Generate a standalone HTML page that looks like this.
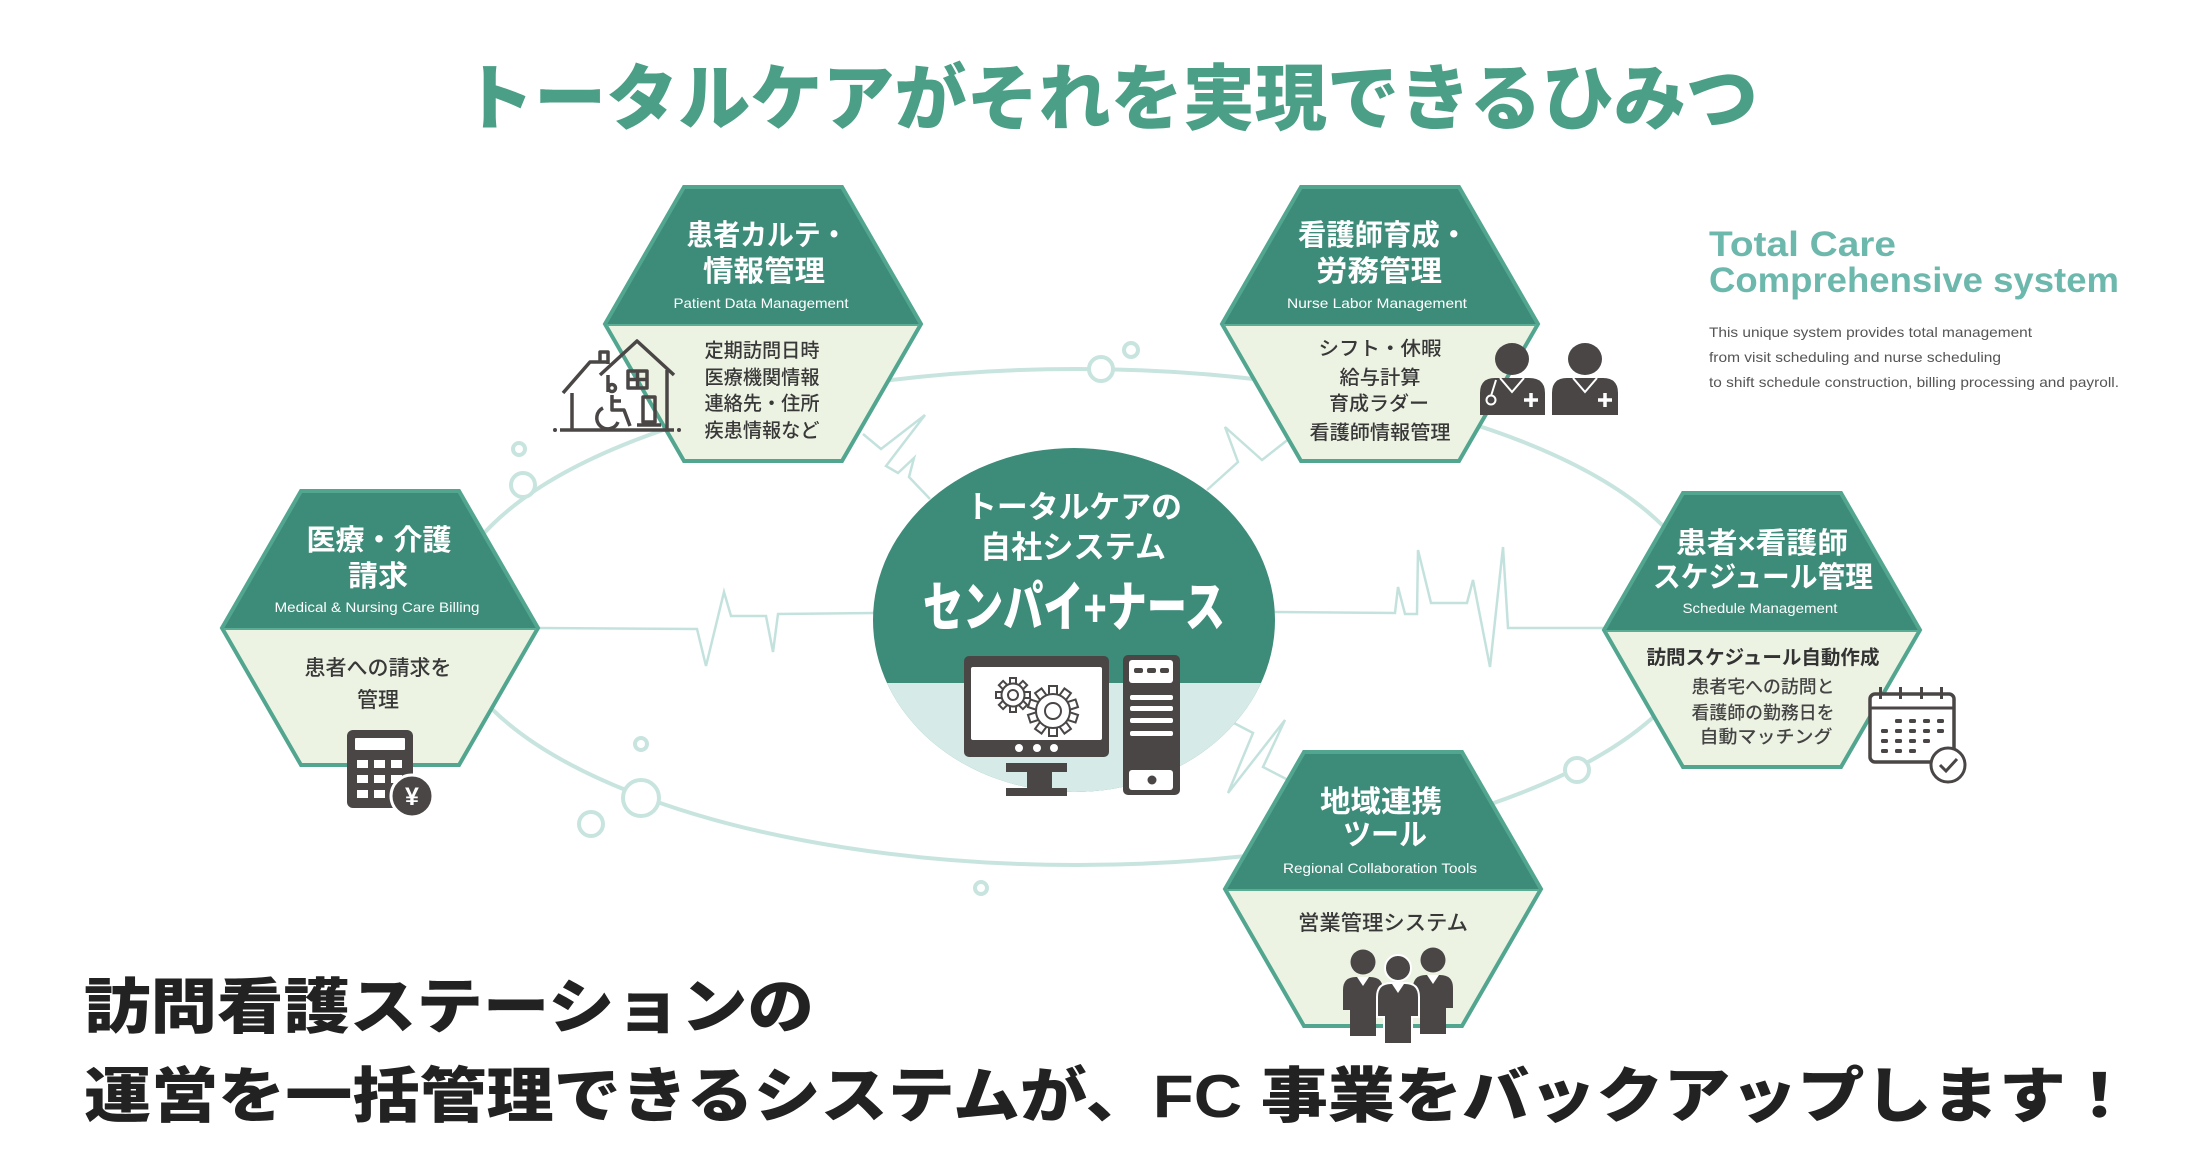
<!DOCTYPE html>
<html><head><meta charset="utf-8"><style>
html,body{margin:0;padding:0;background:#fff;}
svg{display:block;}
text{font-family:"Liberation Sans","Noto Sans CJK JP",sans-serif;}
</style></head><body>
<svg width="2188" height="1158" viewBox="0 0 2188 1158" xmlns="http://www.w3.org/2000/svg">
<rect width="2188" height="1158" fill="#fff"/>

<!-- Title -->
<text x="462" y="124" font-size="72" font-weight="900" fill="#4a9f86" textLength="1296" lengthAdjust="spacingAndGlyphs">トータルケアがそれを実現できるひみつ</text>

<!-- Orbit -->
<ellipse cx="1077" cy="617" rx="630" ry="248" fill="none" stroke="#c8e4df" stroke-width="4"/>

<!-- ECG lines -->
<g fill="none" stroke="#c4e2dd" stroke-width="2.5" stroke-linejoin="miter">
<path d="M538 628 L697 629 L706 666 L724 592 L731 616 L766 616 L773 652 L778 614 L875 613"/>
<path d="M1275 612 L1395 613 L1398 587 L1405 614 L1417 614 L1418 550 L1431 603 L1467 603 L1473 580 L1490 667 L1503 547 L1508 628 L1605 628"/>
<path d="M863 434 L881 449 L925 415 L886 466 L898 473 L914 458 L909 477 L930 499"/>
<path d="M1207 490 L1238 462 L1225 427 L1262 460 L1290 438"/>
<path d="M1232 722 L1253 733 L1228 793 L1285 720 L1263 767 L1292 782"/>
</g>

<!-- orbit circles -->
<g fill="#fff" stroke="#c8e4df" stroke-width="4">
<circle cx="523" cy="485" r="12"/>
<circle cx="1101" cy="369" r="12"/>
<circle cx="1577" cy="770" r="12"/>
<circle cx="641" cy="798" r="18"/>
<circle cx="519" cy="449" r="6"/>
<circle cx="1131" cy="350" r="7"/>
<circle cx="591" cy="824" r="12"/>
<circle cx="641" cy="744" r="6"/>
<circle cx="981" cy="888" r="6"/>
</g>

<!-- Center ellipse -->
<defs>
<clipPath id="band"><rect x="860" y="683" width="440" height="130"/></clipPath>
</defs>
<ellipse cx="1074" cy="620" rx="201" ry="172" fill="#3d8b79"/>
<ellipse cx="1074" cy="620" rx="201" ry="172" fill="#d6ebe8" clip-path="url(#band)"/>
<text x="1074" y="518" font-size="31" font-weight="700" fill="#fff" text-anchor="middle" textLength="216" lengthAdjust="spacingAndGlyphs">トータルケアの</text>
<text x="1073" y="558" font-size="31" font-weight="700" fill="#fff" text-anchor="middle" textLength="186" lengthAdjust="spacingAndGlyphs">自社システム</text>
<text x="1074" y="626" font-size="54" font-weight="900" fill="#fff" text-anchor="middle" textLength="302" lengthAdjust="spacingAndGlyphs">センパイ+ナース</text>

<!-- Monitor -->
<g fill="#4a4646">
<rect x="964" y="656" width="145" height="101" rx="5"/>
<path d="M1006 763 H1067 V772 H1052 V788 H1067 V796 H1006 V788 H1027 V772 H1006 Z"/>
<rect x="1123" y="655" width="57" height="140" rx="5"/>
</g>
<rect x="971" y="667" width="131" height="73" rx="2" fill="#fff"/>
<g fill="#fff">
<circle cx="1019" cy="748" r="4"/><circle cx="1037" cy="748" r="4"/><circle cx="1054" cy="748" r="4"/>
<rect x="1129" y="660" width="44" height="23" rx="3"/>
<rect x="1130" y="695" width="43" height="5" rx="2"/>
<rect x="1130" y="706" width="43" height="5" rx="2"/>
<rect x="1130" y="718" width="43" height="5" rx="2"/>
<rect x="1130" y="731" width="43" height="5" rx="2"/>
<rect x="1129" y="770" width="44" height="20" rx="3"/>
</g>
<g fill="#4a4646">
<rect x="1134" y="668" width="9" height="5" rx="2"/>
<rect x="1147" y="668" width="9" height="5" rx="2"/>
<rect x="1160" y="668" width="9" height="5" rx="2"/>
<circle cx="1152" cy="780" r="4.5"/>
</g>
<!-- gears -->
<g fill="#fff" stroke="#4a4646" stroke-width="2">
<g transform="translate(1013,695)">
<rect x="-3" y="-17" width="6" height="8" transform="rotate(0)"/>
<rect x="-3" y="-17" width="6" height="8" transform="rotate(45)"/>
<rect x="-3" y="-17" width="6" height="8" transform="rotate(90)"/>
<rect x="-3" y="-17" width="6" height="8" transform="rotate(135)"/>
<rect x="-3" y="-17" width="6" height="8" transform="rotate(180)"/>
<rect x="-3" y="-17" width="6" height="8" transform="rotate(225)"/>
<rect x="-3" y="-17" width="6" height="8" transform="rotate(270)"/>
<rect x="-3" y="-17" width="6" height="8" transform="rotate(315)"/>
<circle r="11.5"/>
<circle r="5"/>
</g>
<g transform="translate(1053,711)">
<rect x="-4" y="-25" width="8" height="10" transform="rotate(0)"/>
<rect x="-4" y="-25" width="8" height="10" transform="rotate(36)"/>
<rect x="-4" y="-25" width="8" height="10" transform="rotate(72)"/>
<rect x="-4" y="-25" width="8" height="10" transform="rotate(108)"/>
<rect x="-4" y="-25" width="8" height="10" transform="rotate(144)"/>
<rect x="-4" y="-25" width="8" height="10" transform="rotate(180)"/>
<rect x="-4" y="-25" width="8" height="10" transform="rotate(216)"/>
<rect x="-4" y="-25" width="8" height="10" transform="rotate(252)"/>
<rect x="-4" y="-25" width="8" height="10" transform="rotate(288)"/>
<rect x="-4" y="-25" width="8" height="10" transform="rotate(324)"/>
<circle r="17"/>
<circle r="8"/>
</g>
</g>

<!-- Hexagons -->
<g stroke="none">
<polygon points="605,324 684,187 842,187 921,324" fill="#3d8b79"/>
<polygon points="605,324 921,324 842,461 684,461" fill="#edf3e3"/>
<polygon points="1222,324 1301,187 1459,187 1538,324" fill="#3d8b79"/>
<polygon points="1222,324 1538,324 1459,461 1301,461" fill="#edf3e3"/>
<polygon points="222,628 301,491 459,491 538,628" fill="#3d8b79"/>
<polygon points="222,628 538,628 459,765 301,765" fill="#edf3e3"/>
<polygon points="1604,630 1683,493 1841,493 1920,630" fill="#3d8b79"/>
<polygon points="1604,630 1920,630 1841,767 1683,767" fill="#edf3e3"/>
<polygon points="1225,889 1304,752 1462,752 1541,889" fill="#3d8b79"/>
<polygon points="1225,889 1541,889 1462,1026 1304,1026" fill="#edf3e3"/>
</g>
<g fill="none" stroke="#52a68f" stroke-width="4" stroke-linejoin="miter">
<polygon points="605,324 684,187 842,187 921,324 842,461 684,461"/>
<polygon points="1222,324 1301,187 1459,187 1538,324 1459,461 1301,461"/>
<polygon points="222,628 301,491 459,491 538,628 459,765 301,765"/>
<polygon points="1604,630 1683,493 1841,493 1920,630 1841,767 1683,767"/>
<polygon points="1225,889 1304,752 1462,752 1541,889 1462,1026 1304,1026"/>
</g>
<g stroke="#5aae96" stroke-width="2">
<line x1="607" y1="325" x2="919" y2="325"/>
<line x1="1224" y1="325" x2="1536" y2="325"/>
<line x1="224" y1="629" x2="536" y2="629"/>
<line x1="1606" y1="631" x2="1918" y2="631"/>
<line x1="1227" y1="890" x2="1539" y2="890"/>
</g>

<!-- Hex titles -->
<g fill="#fff" font-weight="700" text-anchor="middle" font-size="29">
<text x="767" y="245" textLength="161" lengthAdjust="spacingAndGlyphs">患者カルテ・</text>
<text x="764" y="281" textLength="122" lengthAdjust="spacingAndGlyphs">情報管理</text>
<text x="1383" y="245" textLength="170" lengthAdjust="spacingAndGlyphs">看護師育成・</text>
<text x="1379" y="281" textLength="126" lengthAdjust="spacingAndGlyphs">労務管理</text>
<text x="379" y="550" textLength="145" lengthAdjust="spacingAndGlyphs">医療・介護</text>
<text x="378" y="586" textLength="60" lengthAdjust="spacingAndGlyphs">請求</text>
<text x="1762" y="553" textLength="172" lengthAdjust="spacingAndGlyphs">患者×看護師</text>
<text x="1763" y="587" textLength="220" lengthAdjust="spacingAndGlyphs">スケジュール管理</text>
<text x="1381" y="812" font-size="30" textLength="122" lengthAdjust="spacingAndGlyphs">地域連携</text>
<text x="1385" y="845" font-size="30" textLength="84" lengthAdjust="spacingAndGlyphs">ツール</text>
</g>
<g fill="#fff" text-anchor="middle" font-size="14">
<text x="761" y="308" textLength="175" lengthAdjust="spacingAndGlyphs">Patient Data Management</text>
<text x="1377" y="308" textLength="180" lengthAdjust="spacingAndGlyphs">Nurse Labor Management</text>
<text x="377" y="612" textLength="205" lengthAdjust="spacingAndGlyphs">Medical &amp; Nursing Care Billing</text>
<text x="1760" y="613" textLength="155" lengthAdjust="spacingAndGlyphs">Schedule Management</text>
<text x="1380" y="873" textLength="194" lengthAdjust="spacingAndGlyphs">Regional Collaboration Tools</text>
</g>

<!-- body texts -->
<g fill="#383838" text-anchor="middle" font-size="19.5" font-weight="500">
<text x="762" y="357" textLength="115" lengthAdjust="spacingAndGlyphs">定期訪問日時</text>
<text x="762" y="384" textLength="115" lengthAdjust="spacingAndGlyphs">医療機関情報</text>
<text x="762" y="410" textLength="115" lengthAdjust="spacingAndGlyphs">連絡先・住所</text>
<text x="762" y="437" textLength="115" lengthAdjust="spacingAndGlyphs">疾患情報など</text>
<text x="1380" y="355" textLength="123" lengthAdjust="spacingAndGlyphs">シフト・休暇</text>
<text x="1380" y="384" textLength="81" lengthAdjust="spacingAndGlyphs">給与計算</text>
<text x="1379" y="410" textLength="100" lengthAdjust="spacingAndGlyphs">育成ラダー</text>
<text x="1380" y="439" textLength="141" lengthAdjust="spacingAndGlyphs">看護師情報管理</text>
<text x="378" y="675" font-size="21" textLength="147" lengthAdjust="spacingAndGlyphs">患者への請求を</text>
<text x="378" y="707" font-size="21">管理</text>
<text x="1763" y="664" font-weight="700" fill="#333" textLength="233" lengthAdjust="spacingAndGlyphs">訪問スケジュール自動作成</text>
<text x="1763" y="693" font-size="18" fill="#444" textLength="143" lengthAdjust="spacingAndGlyphs">患者宅への訪問と</text>
<text x="1763" y="719" font-size="18" fill="#444" textLength="143" lengthAdjust="spacingAndGlyphs">看護師の勤務日を</text>
<text x="1766" y="743" font-size="18" fill="#444" textLength="133" lengthAdjust="spacingAndGlyphs">自動マッチング</text>
<text x="1383" y="930" font-size="21" textLength="170" lengthAdjust="spacingAndGlyphs">営業管理システム</text>
</g>

<!-- House icon -->
<g fill="none" stroke="#4a4646" stroke-width="3.5" stroke-linejoin="round">
<line x1="560" y1="430" x2="674" y2="430"/>
<path d="M563 393 L590 362 L608 362"/>
<path d="M600 362 V352 H608 V364"/>
<line x1="572" y1="393" x2="572" y2="430"/>
<path d="M600 375 L637 341 L674 375"/>
<path d="M608 375 V392"/>
<path d="M667 370 V430"/>
<rect x="628" y="371" width="19" height="17"/>
<path d="M637.5 371 V388 M628 379.5 H647"/>
<rect x="643" y="397" width="12" height="25"/>
<line x1="637" y1="425" x2="661" y2="425"/>
<circle cx="612" cy="388" r="3.5"/>
<path d="M612 395 V410 H624 L630 426"/>
<path d="M612 401 H621"/>
<path d="M603 408 A11 11 0 1 0 618 422"/>
</g>
<g fill="#4a4646"><circle cx="555" cy="430" r="2"/><circle cx="679" cy="430" r="2"/></g>

<!-- Nurse icons -->
<g fill="#4a4646">
<ellipse cx="1512" cy="359" rx="17" ry="16"/>
<path d="M1480 415 V393 Q1480 378 1495 378 H1529 Q1545 378 1545 393 V415 Z"/>
<ellipse cx="1585" cy="359" rx="17" ry="16"/>
<path d="M1552 415 V393 Q1552 378 1567 378 H1603 Q1618 378 1618 393 V415 Z"/>
</g>
<g fill="none" stroke="#fff" stroke-width="2">
<path d="M1500 378 L1512 392 L1524 378"/>
<path d="M1573 378 L1585 392 L1597 378"/>
<path d="M1496 380 L1491 396"/>
<circle cx="1491" cy="400" r="4.5"/>
</g>
<g stroke="#fff" stroke-width="3.5">
<path d="M1531 393 V407 M1524 400 H1538"/>
<path d="M1605 393 V407 M1598 400 H1612"/>
</g>

<!-- Calculator -->
<rect x="347" y="730" width="66" height="78" rx="6" fill="#4a4646"/>
<g fill="#fff">
<rect x="355" y="738" width="50" height="12" rx="1"/>
<rect x="357" y="760" width="11" height="8"/><rect x="374" y="760" width="11" height="8"/><rect x="391" y="760" width="11" height="8"/>
<rect x="357" y="775" width="11" height="8"/><rect x="374" y="775" width="11" height="8"/><rect x="391" y="775" width="11" height="8"/>
<rect x="357" y="790" width="11" height="8"/><rect x="374" y="790" width="11" height="8"/>
</g>
<circle cx="412" cy="796" r="21" fill="#4a4646" stroke="#fff" stroke-width="3"/>
<text x="412" y="805" font-size="25" font-weight="700" fill="#fff" text-anchor="middle">¥</text>

<!-- Calendar -->
<rect x="1870" y="694" width="84" height="68" rx="5" fill="#fff" stroke="#4a4646" stroke-width="3.5"/>
<line x1="1870" y1="708" x2="1954" y2="708" stroke="#4a4646" stroke-width="3"/>
<g fill="#4a4646">
<rect x="1879" y="687" width="3" height="12"/><rect x="1899" y="687" width="3" height="12"/>
<rect x="1920" y="687" width="3" height="12"/><rect x="1940" y="687" width="3" height="12"/>
<rect x="1895" y="719" width="7" height="4" rx="1.5"/><rect x="1909" y="719" width="7" height="4" rx="1.5"/><rect x="1923" y="719" width="7" height="4" rx="1.5"/><rect x="1937" y="719" width="7" height="4" rx="1.5"/>
<rect x="1881" y="729" width="7" height="4" rx="1.5"/><rect x="1895" y="729" width="7" height="4" rx="1.5"/><rect x="1909" y="729" width="7" height="4" rx="1.5"/><rect x="1923" y="729" width="7" height="4" rx="1.5"/><rect x="1937" y="729" width="7" height="4" rx="1.5"/>
<rect x="1881" y="739" width="7" height="4" rx="1.5"/><rect x="1895" y="739" width="7" height="4" rx="1.5"/><rect x="1909" y="739" width="7" height="4" rx="1.5"/><rect x="1923" y="739" width="7" height="4" rx="1.5"/>
<rect x="1881" y="749" width="7" height="4" rx="1.5"/><rect x="1895" y="749" width="7" height="4" rx="1.5"/><rect x="1909" y="749" width="7" height="4" rx="1.5"/>
</g>
<circle cx="1948" cy="765" r="17" fill="#fff" stroke="#4a4646" stroke-width="3"/>
<path d="M1940 765 L1946 771 L1957 759" fill="none" stroke="#4a4646" stroke-width="3"/>

<!-- People -->
<g fill="#4a4646">
<circle cx="1363" cy="962" r="12.5"/>
<path d="M1343 1010 V990 Q1343 977 1356 977 H1370 Q1383 977 1383 990 V1010 H1376 V1036 H1350 V1010 Z"/>
<circle cx="1433" cy="960" r="12.5"/>
<path d="M1413 1008 V988 Q1413 975 1426 975 H1440 Q1453 975 1453 988 V1008 H1446 V1034 H1420 V1008 Z"/>
</g>
<g fill="#4a4646" stroke="#fff" stroke-width="2">
<circle cx="1398" cy="968" r="13"/>
<path d="M1377 1017 V997 Q1377 983 1391 983 H1405 Q1419 983 1419 997 V1017 H1412 V1044 H1384 V1017 Z"/>
</g>
<g fill="#fff">
<path d="M1357 977 L1363 986 L1369 977 Z"/>
<path d="M1427 975 L1433 984 L1439 975 Z"/>
<path d="M1392 984 L1398 993 L1404 984 Z"/>
</g>

<!-- Total Care -->
<text x="1709" y="256" font-size="35" font-weight="700" fill="#6cb8ad" textLength="187" lengthAdjust="spacingAndGlyphs">Total Care</text>
<text x="1709" y="292" font-size="35" font-weight="700" fill="#6cb8ad" textLength="410" lengthAdjust="spacingAndGlyphs">Comprehensive system</text>
<g fill="#555" font-size="14">
<text x="1709" y="337" textLength="323" lengthAdjust="spacingAndGlyphs">This unique system provides total management</text>
<text x="1709" y="362" textLength="292" lengthAdjust="spacingAndGlyphs">from visit scheduling and nurse scheduling</text>
<text x="1709" y="387" textLength="410" lengthAdjust="spacingAndGlyphs">to shift schedule construction, billing processing and payroll.</text>
</g>

<!-- Bottom text -->
<text x="84" y="1028" font-size="60" font-weight="900" fill="#222" textLength="730" lengthAdjust="spacingAndGlyphs">訪問看護ステーションの</text>
<text x="84" y="1117" font-size="60" font-weight="900" fill="#222" textLength="2049" lengthAdjust="spacingAndGlyphs">運営を一括管理できるシステムが、FC 事業をバックアップします！</text>
</svg>
</body></html>
